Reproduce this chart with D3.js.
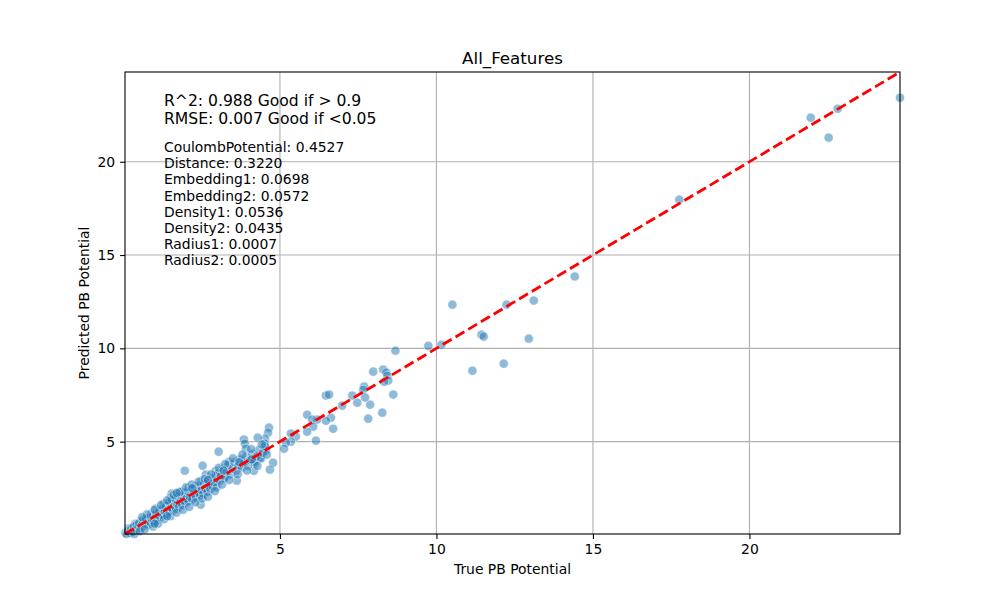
<!DOCTYPE html>
<html><head><meta charset="utf-8">
<script src="https://cdn.jsdelivr.net/npm/d3@7"></script>
<style>body{margin:0;background:#fff}svg{display:block}text{font-family:"DejaVu Sans",sans-serif}</style>
</head><body><svg id="c" width="1000" height="600"></svg>
<script>
const title = "All_Features";
const xLabel = "True PB Potential";
const yLabel = "Predicted PB Potential";
const xTicks = [5, 10, 15, 20];
const yTicks = [5, 10, 15, 20];
const metricLines = ["R^2: 0.988 Good if > 0.9", "RMSE: 0.007 Good if <0.05"];
const featureNames = ["CoulombPotential","Distance","Embedding1","Embedding2","Density1","Density2","Radius1","Radius2"];
const featureImportances = ["0.4527","0.3220","0.0698","0.0572","0.0536","0.0435","0.0007","0.0005"];
// [true, predicted]
const points = [
[24.81,23.43],[22.82,22.84],[22.53,21.29],[21.96,22.36],[17.76,17.97],[14.42,13.85],[13.11,12.56],[12.95,10.52],
[12.24,12.34],[12.15,9.18],[11.44,10.73],[11.51,10.63],[11.15,8.80],[10.51,12.34],[10.16,10.19],[9.74,10.13],
[8.69,9.87],[8.62,7.52],[7.98,8.75],[8.30,8.86],[8.40,8.70],[8.43,8.53],[8.46,8.27],[8.33,8.21],[8.27,6.55],
[7.82,6.23],[7.88,6.98],[7.69,7.95],[7.66,7.78],[7.72,7.36],[7.47,7.09],[7.31,7.47],[6.99,6.93],[6.47,7.47],
[6.57,7.52],[6.63,6.28],[6.70,5.69],[6.47,6.12],[6.19,6.18],[5.87,6.44],[6.03,6.18],[6.06,5.80],[5.87,5.53],
[6.15,5.05],[5.51,5.27],[5.35,5.43],[5.35,5.00],[5.19,4.94],[5.13,4.62],[4.78,3.87],[4.68,3.50],
[4.65,5.75],[4.62,5.48],[4.52,5.16],[4.29,5.21],[4.52,4.89],[4.55,4.52],[4.36,4.14],[4.17,3.44],[4.20,3.82],
[3.85,5.11],[3.88,4.89],[3.91,4.62],[3.75,3.98],[3.37,3.92],[3.62,2.91],[3.04,4.46],[2.53,3.71],[1.96,3.44],
[2.63,3.23],[2.95,3.44],[2.98,2.91],[3.27,3.12],[2.50,2.91],[2.63,2.85],[2.47,1.62],[2.34,2.32],[2.08,2.53],
[1.83,2.32],[1.54,2.21],[1.51,2.00],[1.44,1.19],[1.28,1.68],[1.03,1.41],[0.90,1.14],[0.80,0.93],[0.58,0.77],
[0.38,0.60],[0.16,0.34],[0.06,0.12],
[0.10,0.05],[0.15,0.22],[0.20,0.10],[0.25,0.35],[0.30,0.18],[0.33,0.45],[0.40,0.30],[0.42,0.55],[0.48,0.40],
[0.50,0.62],[0.55,0.35],[0.58,0.50],[0.62,0.75],[0.65,0.48],[0.70,0.60],[0.72,0.85],[0.78,0.55],[0.80,0.70],
[0.85,0.95],[0.88,0.62],[0.92,0.80],[0.95,1.05],[0.98,0.72],
[1.02,0.90],[1.05,1.15],[1.08,0.80],[1.12,1.00],[1.15,1.30],[1.18,0.95],[1.22,1.12],[1.25,1.40],[1.28,1.05],
[1.32,1.25],[1.35,1.55],[1.38,1.15],[1.42,1.35],[1.45,1.75],[1.48,1.25],[1.52,1.45],[1.55,1.90],[1.58,1.30],
[1.62,1.55],[1.65,1.95],[1.68,1.40],[1.72,1.65],[1.75,2.05],[1.78,1.50],[1.82,1.75],[1.85,2.10],[1.88,1.60],
[1.92,1.85],[1.95,2.25],[1.98,1.70],
[2.02,1.95],[2.05,2.35],[2.08,1.80],[2.12,2.05],[2.15,2.45],[2.20,1.90],[2.25,2.20],[2.28,2.60],[2.32,2.00],
[2.38,2.30],[2.42,2.65],[2.45,2.10],[2.50,2.40],[2.55,2.20],[2.58,2.75],[2.62,2.50],[2.68,2.30],[2.72,2.65],
[2.78,2.45],[2.82,3.05],[2.85,2.60],[2.90,2.80],[2.95,3.15],[2.98,2.55],
[3.02,3.30],[3.08,2.90],[3.12,3.20],[3.18,3.55],[3.22,3.05],[3.30,3.40],[3.35,3.75],[3.42,3.25],[3.48,3.55],
[3.55,3.90],[3.60,3.45],[3.68,3.70],[3.72,4.05],[3.78,3.60],[3.85,3.85],[3.92,4.20],[3.98,3.70],[4.05,4.00],
[4.12,4.35],[4.18,3.90],[4.25,4.20],[4.32,4.55],[4.40,4.10],[4.45,4.40],[4.52,4.75],[4.58,4.30],
[0.35,0.05],[0.52,0.20],[0.68,0.30],[0.75,1.10],[0.95,0.45],[1.00,1.35],[1.10,0.60],[1.20,1.60],[1.30,0.85],
[1.40,1.85],[1.50,1.00],[1.60,2.15],[1.70,1.20],[1.80,2.30],[1.90,1.35],[2.00,2.55],[2.10,1.50],[2.18,2.70],
[2.30,1.75],[2.40,2.85],[2.52,1.95],[2.60,3.00],[2.70,2.05],[2.80,3.25],[2.92,2.35],[3.05,3.60],[3.15,2.70],
[3.25,3.80],[3.38,2.95],[3.50,4.10],[3.65,3.25],[3.80,4.30],[3.95,3.45],[4.08,4.60],[4.28,3.70],[4.42,4.85],
[0.60,0.95],[1.00,0.60],[1.40,1.00],[1.70,2.25],[2.20,2.50],[2.70,2.95],[3.20,3.45],[3.70,3.90],[4.10,4.05]
];

const svg = d3.select("#c");
const L = 125, R = 900, T = 72, B = 534;
const all = points.flat();
const lo = d3.min(all), hi = d3.max(all);
const x = d3.scaleLinear().domain([lo, hi]).range([L, R]);
const y = d3.scaleLinear().domain([lo, hi]).range([B, T]);

// grid
const g = svg.append("g");
g.selectAll(".gx").data(xTicks).join("line").attr("x1", d => x(d)).attr("x2", d => x(d))
  .attr("y1", T).attr("y2", B).attr("stroke", "#b0b0b0").attr("stroke-width", 1.1);
g.selectAll(".gy").data(yTicks).join("line").attr("y1", d => y(d)).attr("y2", d => y(d))
  .attr("x1", L).attr("x2", R).attr("stroke", "#b0b0b0").attr("stroke-width", 1.1);

// points
svg.append("g").selectAll("circle").data(points).join("circle")
  .attr("cx", d => x(d[0])).attr("cy", d => y(d[1])).attr("r", 4.6)
  .attr("fill", "#1f77b4").attr("fill-opacity", 0.5)
  .attr("stroke", "#ffffff").attr("stroke-opacity", 0.5).attr("stroke-width", 1);

// diagonal
svg.append("line").attr("x1", x(lo)).attr("y1", y(lo)).attr("x2", x(hi)).attr("y2", y(hi))
  .attr("stroke", "red").attr("stroke-width", 2.8).attr("stroke-dasharray", "10.3,4.5");

// axes
const xa = svg.append("g").attr("transform", `translate(0,${B})`)
  .call(d3.axisBottom(x).tickValues(xTicks).tickSize(4.9).tickPadding(4.9).tickFormat(d3.format("d")));
const ya = svg.append("g").attr("transform", `translate(${L},0)`)
  .call(d3.axisLeft(y).tickValues(yTicks).tickSize(4.9).tickPadding(4.9).tickFormat(d3.format("d")));
[xa, ya].forEach(a => {
  a.select(".domain").remove();
  a.selectAll("line").attr("stroke", "#000").attr("stroke-width", 1.1);
  a.selectAll("text").attr("font-size", 13.9).attr("fill", "#000").attr("font-family", "DejaVu Sans");
});
svg.append("rect").attr("x", L).attr("y", T).attr("width", R - L).attr("height", B - T)
  .attr("fill", "none").attr("stroke", "#000").attr("stroke-width", 1.1);

// labels
svg.append("text").attr("x", (L + R) / 2).attr("y", 64).attr("text-anchor", "middle")
  .attr("font-size", 16.7).text(title);
svg.append("text").attr("x", (L + R) / 2).attr("y", 574).attr("text-anchor", "middle")
  .attr("font-size", 13.9).text(xLabel);
svg.append("text").attr("transform", `translate(89,${(T + B) / 2}) rotate(-90)`).attr("text-anchor", "middle")
  .attr("font-size", 13.9).text(yLabel);

// annotation
svg.selectAll(".m").data(metricLines).join("text").attr("x", 164).attr("y", (d, i) => 105.5 + i * 18.2)
  .attr("font-size", 15.6).text(d => d);
svg.selectAll(".f").data(featureNames).join("text").attr("x", 164).attr("y", (d, i) => 152 + i * 16.2)
  .attr("font-size", 13.9).text((d, i) => `${d}: ${featureImportances[i]}`);
</script></body></html>
